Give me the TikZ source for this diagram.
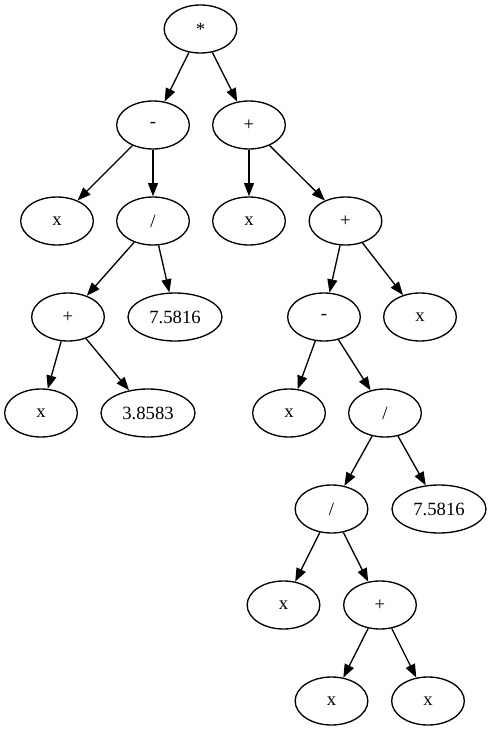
\documentclass[tikz,border=0pt]{standalone}
\usepackage{fontspec}
\setmainfont{Liberation Serif}
\usetikzlibrary{shapes.geometric,arrows.meta}
\begin{document}
\begin{tikzpicture}[x=0.75pt,y=-0.75pt,
  tnode/.style={draw,ellipse,line width=1pt,inner sep=0pt,
    minimum width=54.5pt,minimum height=36pt,
    font=\fontsize{14}{16}\selectfont},
  wide/.style={minimum width=70.5pt},
  edge/.style={draw,line width=1pt,-{Triangle[length=10pt,width=7.5pt]}}]
\useasboundingbox (0,0) rectangle (491,731);
% level 0
\node[tnode] (n0) at (200.5,29) {*};
% level 1
\node[tnode] (n1) at (153,125) {-};
\node[tnode] (n2) at (249,125) {+};
% level 2
\node[tnode] (n3) at (57,221) {x};
\node[tnode] (n4) at (153,221) {/};
\node[tnode] (n5) at (249,221) {x};
\node[tnode] (n6) at (345.5,221) {+};
% level 3
\node[tnode] (n7) at (68,317) {+};
\node[tnode,wide] (n8) at (175,317) {7.5816};
\node[tnode] (n9) at (324,317) {-};
\node[tnode] (n10) at (420,317) {x};
% level 4
\node[tnode] (n11) at (41,413) {x};
\node[tnode,wide] (n12) at (148,413) {3.8583};
\node[tnode] (n13) at (289,413) {x};
\node[tnode] (n14) at (385,413) {/};
% level 5
\node[tnode] (n15) at (331.5,509) {/};
\node[tnode,wide] (n16) at (439,509) {7.5816};
% level 6
\node[tnode] (n17) at (283.5,605) {x};
\node[tnode] (n18) at (380,605) {+};
% level 7
\node[tnode] (n19) at (331.5,701) {x};
\node[tnode] (n20) at (428,701) {x};
% connectors
\path[edge] (n0) -- (n1);
\path[edge] (n0) -- (n2);
\path[edge] (n1) -- (n3);
\path[edge] (n1) -- (n4);
\path[edge] (n2) -- (n5);
\path[edge] (n2) -- (n6);
\path[edge] (n4) -- (n7);
\path[edge] (n4) -- (n8);
\path[edge] (n6) -- (n9);
\path[edge] (n6) -- (n10);
\path[edge] (n7) -- (n11);
\path[edge] (n7) -- (n12);
\path[edge] (n9) -- (n13);
\path[edge] (n9) -- (n14);
\path[edge] (n14) -- (n15);
\path[edge] (n14) -- (n16);
\path[edge] (n15) -- (n17);
\path[edge] (n15) -- (n18);
\path[edge] (n18) -- (n19);
\path[edge] (n18) -- (n20);
\end{tikzpicture}
\end{document}
